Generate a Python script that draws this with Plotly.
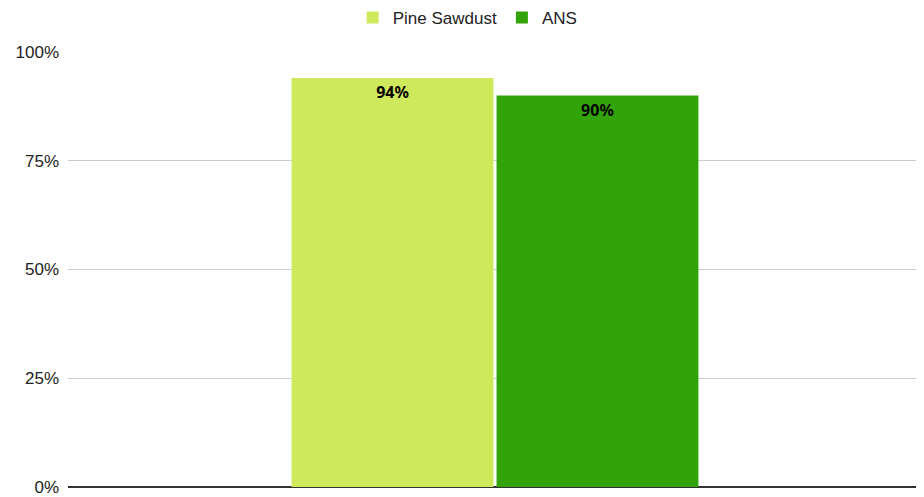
import plotly.graph_objects as go

categories = ["Moisture"]
series_names = ["Pine Sawdust", "ANS"]
pine_values = [0.94]
ans_values = [0.90]
tick_vals = [0, 0.25, 0.5, 0.75, 1.0]
tick_text = ["0%", "25%", "50%", "75%", "100%"]

colors = ["#cfe95c", "#32a40a"]

fig = go.Figure()
for name, vals, col in zip(series_names, [pine_values, ans_values], colors):
    fig.add_trace(go.Bar(
        x=categories, y=vals, name=name, marker_color=col,
        marker_line_width=0,
        text=[f"{v*100:.0f}%" for v in vals],
        textposition="inside", insidetextanchor="end",
        textfont=dict(family="Noto Sans", size=16, color="#000000", weight="bold"),
        textangle=0,
    ))

fig.update_layout(
    width=924, height=497,
    margin=dict(l=60, r=10, t=44, b=18, autoexpand=False),
    paper_bgcolor="white", plot_bgcolor="white",
    barmode="group", bargap=0.52, bargroupgap=0.015,
    font=dict(family="Liberation Sans", size=17, color="#222222"),
    legend=dict(orientation="h", x=0.468, xanchor="center", xref="paper",
                y=1.078, yanchor="middle", yref="paper",
                font=dict(size=17, color="#222222"), itemwidth=30),
    showlegend=True,
    xaxis=dict(showticklabels=False, showgrid=False, ticks=""),
    yaxis=dict(range=[0, 1.0], tickvals=tick_vals, ticktext=tick_text,
               showgrid=True, gridcolor="#cccccc", gridwidth=1,
               zeroline=True, zerolinecolor="#333333", zerolinewidth=2,
               ticks="", ticklabelstandoff=8, tickfont=dict(size=17, color="#222222")),
)

fig.write_html("out.html")
